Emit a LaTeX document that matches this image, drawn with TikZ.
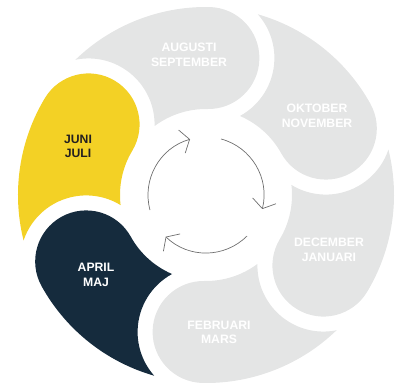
\documentclass[tikz,border=0pt]{standalone}
\usepackage{fontspec}
\setmainfont{Liberation Sans}
\usetikzlibrary{arrows.meta}
\definecolor{monthgray}{HTML}{E4E5E5}
\definecolor{monthyellow}{HTML}{F3D125}
\definecolor{monthnavy}{HTML}{152B3D}
\definecolor{monthtext}{HTML}{231F20}
\definecolor{cyclegray}{HTML}{6E6E6E}
\begin{document}
\begin{tikzpicture}[x=1pt,y=1pt]
	\useasboundingbox (-206,-190) rectangle (195,195);
	% One petal: tail at angle 0, bulb clockwise from it
	\tikzset{petal/.pic={
		\path[pic actions] (0:188) arc[start angle=0, end angle=-45, radius=188]
			arc[start angle=-45, end angle=-225, radius=51]
			arc[start angle=-45, end angle=-7.26, radius=86]
			arc[start angle=224.57, end angle=327.51, radius=66] -- cycle;
	}}
	\tikzset{monthlabel/.style={align=center, font=\fontsize{12.2}{14.6}\selectfont\bfseries, text=white, inner sep=0pt}}
	\tikzset{cyclearrow/.style={cyclegray, line width=0.7, -{Straight Barb[length=8, width=24]}}}
	
	% Draw the petals
	\pic[fill=monthgray, rotate=134] {petal};
	\pic[fill=monthgray, rotate=74] {petal};
	\pic[fill=monthgray, rotate=14] {petal};
	\pic[fill=monthgray, rotate=-46] {petal};
	\pic[fill=monthnavy, rotate=-106] {petal};
	\pic[fill=monthyellow, rotate=-166] {petal};
	
	% Months
	\node[monthlabel] (augsep) at (-17,140) {AUGUSTI\\SEPTEMBER};
	\node[monthlabel] (oktnov) at (111,79) {OKTOBER\\NOVEMBER};
	\node[monthlabel] (decjan) at (123,-55) {DECEMBER\\JANUARI};
	\node[monthlabel] (febmar) at (13,-137.5) {FEBRUARI\\MARS};
	\node[monthlabel] (aprmaj) at (-110,-80) {APRIL\\MAJ};
	\node[monthlabel, text=monthtext] (junjul) at (-128,48.5) {JUNI\\JULI};
	
	% Draw the cycle arrows
	\draw[cyclearrow] (195:58) arc[start angle=195, end angle=106, radius=58];
	\draw[cyclearrow] (75:58) arc[start angle=75, end angle=-14, radius=58];
	\draw[cyclearrow] (-45:58) arc[start angle=-45, end angle=-134, radius=58];
\end{tikzpicture}
\end{document}
